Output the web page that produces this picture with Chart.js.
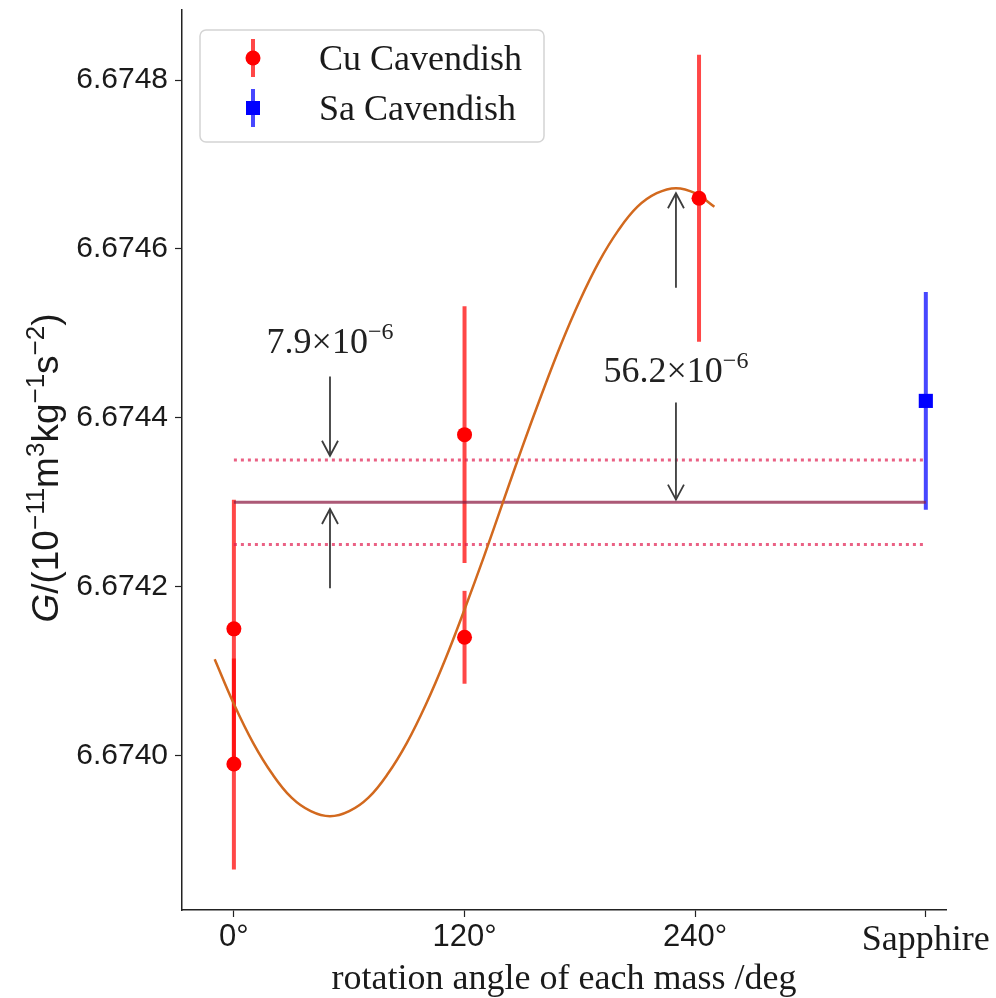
<!DOCTYPE html>
<html>
<head>
<meta charset="utf-8">
<script src="https://cdn.jsdelivr.net/npm/chart.js@4"></script>
<style>
  html, body { margin: 0; padding: 0; background: #fff; }
  canvas { display: block; }
</style>
</head>
<body>
<canvas id="gChart" width="996" height="998"></canvas>
<script>
// Cu Cavendish measurements (rotation angle in deg, G, 1-sigma error)
const cuAngles = [0, 0, 120, 120, 242];
const cuG = [6.67415, 6.67399, 6.67438, 6.67414, 6.67466];
const cuErr = [0.000153, 0.000125, 0.000152, 0.000055, 0.00017];

// Sapphire Cavendish measurement (plotted at the "Sapphire" slot)
const saAngles = [360];
const saG = [6.67442];
const saErr = [0.000129];

// fitted curve
const fitAngles = [-10, 0, 10, 20, 30, 40, 50, 60, 70, 80, 90, 100, 110, 120, 130,
  140, 150, 160, 170, 180, 190, 200, 210, 220, 230, 240, 250];
const fitG = [6.674114, 6.674061, 6.674015, 6.673978, 6.673950, 6.673934, 6.673928,
  6.673934, 6.673950, 6.673978, 6.674015, 6.674061, 6.674114, 6.674173, 6.674235,
  6.674300, 6.674365, 6.674427, 6.674486, 6.674539, 6.674585, 6.674622, 6.674650,
  6.674666, 6.674672, 6.674666, 6.674650];

// weighted mean and its band
const meanRange = [0, 360];
const meanG = 6.6743;
const bandUpper = 6.67435;
const bandLower = 6.67425;

// ticks
const xTickValues = [0, 120, 240, 360];
const xTickLabels = ['0°', '120°', '240°', 'Sapphire'];
const yTickValues = [6.6740, 6.6742, 6.6744, 6.6746, 6.6748];

// annotation arrows and their labels (data coordinates)
const arrows = [
  { from: [50, 6.674449], to: [50, 6.674355] },
  { from: [50, 6.674198], to: [50, 6.674292] },
  { from: [230, 6.674554], to: [230, 6.674666] },
  { from: [230, 6.674418], to: [230, 6.674303] }
];
const notes = [
  { x: 50, y: 6.674492, text: '7.9×10', sup: '−6' },
  { x: 230, y: 6.674458, text: '56.2×10', sup: '−6' }
];

const SANS = 'Liberation Sans';
const SERIF = 'Liberation Serif';
const cuColor = 'rgba(255,0,0,0.72)';
const saColor = 'rgba(0,0,255,0.72)';

const pairs = (xs, ys) => xs.map((x, i) => ({ x: x, y: ys[i] }));

// draws vertical error bars under the datasets
const errorBars = {
  id: 'errorBars',
  beforeDatasetsDraw(chart) {
    const { ctx, scales: { x, y } } = chart;
    const bar = (a, g, e, color) => {
      const px = x.getPixelForValue(a);
      ctx.beginPath();
      ctx.moveTo(px, y.getPixelForValue(g - e));
      ctx.lineTo(px, y.getPixelForValue(g + e));
      ctx.strokeStyle = color;
      ctx.lineWidth = 4;
      ctx.stroke();
    };
    ctx.save();
    cuAngles.forEach((a, i) => bar(a, cuG[i], cuErr[i], cuColor));
    saAngles.forEach((a, i) => bar(a, saG[i], saErr[i], saColor));
    ctx.restore();
  }
};

function drawSupText(ctx, x, y, main, sup, mainFont, supFont, rise) {
  ctx.font = mainFont;
  const w1 = ctx.measureText(main).width;
  ctx.font = supFont;
  const w2 = ctx.measureText(sup).width;
  let sx = x - (w1 + w2) / 2;
  ctx.font = mainFont;
  ctx.fillText(main, sx, y);
  ctx.font = supFont;
  ctx.fillText(sup, sx + w1, y - rise);
}

// arrows and labels
const annotations = {
  id: 'annotations',
  afterDatasetsDraw(chart) {
    const { ctx, scales: { x, y } } = chart;
    ctx.save();
    ctx.strokeStyle = '#3c3c3c';
    ctx.lineWidth = 1.8;
    arrows.forEach(a => {
      const x0 = x.getPixelForValue(a.from[0]), y0 = y.getPixelForValue(a.from[1]);
      const x1 = x.getPixelForValue(a.to[0]), y1 = y.getPixelForValue(a.to[1]);
      ctx.beginPath();
      ctx.moveTo(x0, y0);
      ctx.lineTo(x1, y1);
      ctx.stroke();
      const ang = Math.atan2(y1 - y0, x1 - x0);
      const c = Math.cos(ang), s = Math.sin(ang);
      const len = 15, half = 8;
      ctx.beginPath();
      ctx.moveTo(x1 - len * c - half * s, y1 - len * s + half * c);
      ctx.lineTo(x1, y1);
      ctx.lineTo(x1 - len * c + half * s, y1 - len * s - half * c);
      ctx.stroke();
    });
    ctx.fillStyle = '#222';
    ctx.textBaseline = 'alphabetic';
    ctx.textAlign = 'left';
    notes.forEach(n => {
      const px = x.getPixelForValue(n.x);
      const py = y.getPixelForValue(n.y) + 13;
      drawSupText(ctx, px, py, n.text, n.sup, '36px "' + SERIF + '"', '24px "' + SERIF + '"', 14);
    });
    ctx.restore();
  }
};

// legend with error-bar glyphs, and the y axis title with superscripts
const decorations = {
  id: 'decorations',
  afterDraw(chart) {
    const { ctx, chartArea } = chart;
    ctx.save();
    // legend box
    const bx = chartArea.left + 18, by = chartArea.top + 20, bw = 344, bh = 112, r = 6;
    ctx.beginPath();
    ctx.roundRect(bx, by, bw, bh, r);
    ctx.fillStyle = 'rgba(255,255,255,0.85)';
    ctx.fill();
    ctx.strokeStyle = '#d4d4d4';
    ctx.lineWidth = 1.5;
    ctx.stroke();
    const mx = bx + 53;
    const rows = [
      { y: by + 28, color: cuColor, fill: 'red', shape: 'circle', label: 'Cu Cavendish' },
      { y: by + 78, color: saColor, fill: 'blue', shape: 'square', label: 'Sa Cavendish' }
    ];
    rows.forEach(row => {
      ctx.beginPath();
      ctx.moveTo(mx, row.y - 19);
      ctx.lineTo(mx, row.y + 19);
      ctx.strokeStyle = row.color;
      ctx.lineWidth = 4;
      ctx.stroke();
      ctx.fillStyle = row.fill;
      if (row.shape === 'circle') {
        ctx.beginPath();
        ctx.arc(mx, row.y, 7.5, 0, Math.PI * 2);
        ctx.fill();
      } else {
        ctx.fillRect(mx - 7, row.y - 7, 14, 14);
      }
      ctx.fillStyle = '#1a1a1a';
      ctx.font = '36px "' + SERIF + '"';
      ctx.textBaseline = 'alphabetic';
      ctx.fillText(row.label, bx + 119, row.y + 12);
    });

    // y axis title
    const parts = [
      { t: 'G', italic: true }, { t: '/(10' }, { t: '−11', sup: true }, { t: 'm' },
      { t: '3', sup: true }, { t: 'kg' }, { t: '−1', sup: true }, { t: 's' },
      { t: '−2', sup: true }, { t: ')' }
    ];
    const fontOf = p => (p.italic ? 'italic ' : '') + (p.sup ? '26px' : '37px') + ' "' + SANS + '"';
    let total = 0;
    parts.forEach(p => { ctx.font = fontOf(p); p.w = ctx.measureText(p.t).width; total += p.w; });
    const cy = (chartArea.top + chartArea.bottom) / 2;
    ctx.translate(45, cy + 8);
    ctx.rotate(-Math.PI / 2);
    ctx.fillStyle = '#1a1a1a';
    let cx = -total / 2;
    parts.forEach(p => {
      ctx.font = fontOf(p);
      ctx.fillText(p.t, cx, p.sup ? 13 - 14 : 13);
      cx += p.w;
    });
    ctx.restore();
  }
};

new Chart(document.getElementById('gChart').getContext('2d'), {
  type: 'scatter',
  data: {
    datasets: [
      {
        label: 'Cu Cavendish',
        data: pairs(cuAngles, cuG),
        pointStyle: 'circle',
        pointRadius: 7.5,
        backgroundColor: 'red',
        borderWidth: 0
      },
      {
        label: 'Sa Cavendish',
        data: pairs(saAngles, saG),
        pointStyle: 'rect',
        pointRadius: 10,
        backgroundColor: 'blue',
        borderWidth: 0
      },
      {
        type: 'line',
        label: 'fit',
        data: pairs(fitAngles, fitG),
        borderColor: '#d2691e',
        borderWidth: 2.5,
        pointRadius: 0,
        tension: 0.4,
        fill: false
      },
      {
        type: 'line',
        label: 'mean',
        data: pairs(meanRange, [meanG, meanG]),
        borderColor: 'rgba(140,25,65,0.72)',
        borderWidth: 3,
        pointRadius: 0
      },
      {
        type: 'line',
        label: 'upper',
        data: pairs(meanRange, [bandUpper, bandUpper]),
        borderColor: 'rgba(225,30,80,0.7)',
        borderWidth: 3,
        borderDash: [3, 4],
        pointRadius: 0
      },
      {
        type: 'line',
        label: 'lower',
        data: pairs(meanRange, [bandLower, bandLower]),
        borderColor: 'rgba(225,30,80,0.7)',
        borderWidth: 3,
        borderDash: [3, 4],
        pointRadius: 0
      }
    ]
  },
  options: {
    responsive: false,
    animation: false,
    layout: { padding: { left: 0, right: 50, top: 8, bottom: 0 } },
    plugins: {
      legend: { display: false },
      tooltip: { enabled: false }
    },
    scales: {
      x: {
        type: 'linear',
        min: -27,
        max: 370.5,
        afterFit: s => { s.height = 88; s.paddingLeft = 0; s.paddingRight = 0; },
        afterBuildTicks: s => { s.ticks = xTickValues.map(v => ({ value: v })); },
        border: { color: '#222', width: 1.5 },
        grid: { drawOnChartArea: false, tickLength: 7, tickColor: '#222', tickWidth: 1.2 },
        ticks: {
          padding: 2,
          color: '#1a1a1a',
          maxRotation: 0,
          autoSkip: false,
          font: ctx => (ctx.tick && ctx.tick.value === 360)
            ? { family: SERIF, size: 36 }
            : { family: SANS, size: 31 },
          callback: v => xTickLabels[xTickValues.indexOf(v)]
        },
        title: {
          display: true,
          text: 'rotation angle of each mass /deg',
          color: '#1a1a1a',
          font: { family: SERIF, size: 36 },
          padding: { top: 0, bottom: -3 }
        }
      },
      y: {
        type: 'linear',
        min: 6.673817,
        max: 6.674883,
        afterFit: s => { s.width = 182; s.paddingTop = 0; s.paddingBottom = 0; },
        afterBuildTicks: s => { s.ticks = yTickValues.map(v => ({ value: v })); },
        border: { color: '#222', width: 1.5 },
        grid: { drawOnChartArea: false, tickLength: 7, tickColor: '#222', tickWidth: 1.2 },
        ticks: {
          padding: 7,
          color: '#1a1a1a',
          font: { family: SANS, size: 30 },
          callback: v => v.toFixed(4)
        }
      }
    }
  },
  plugins: [errorBars, annotations, decorations]
});
</script>
</body>
</html>
